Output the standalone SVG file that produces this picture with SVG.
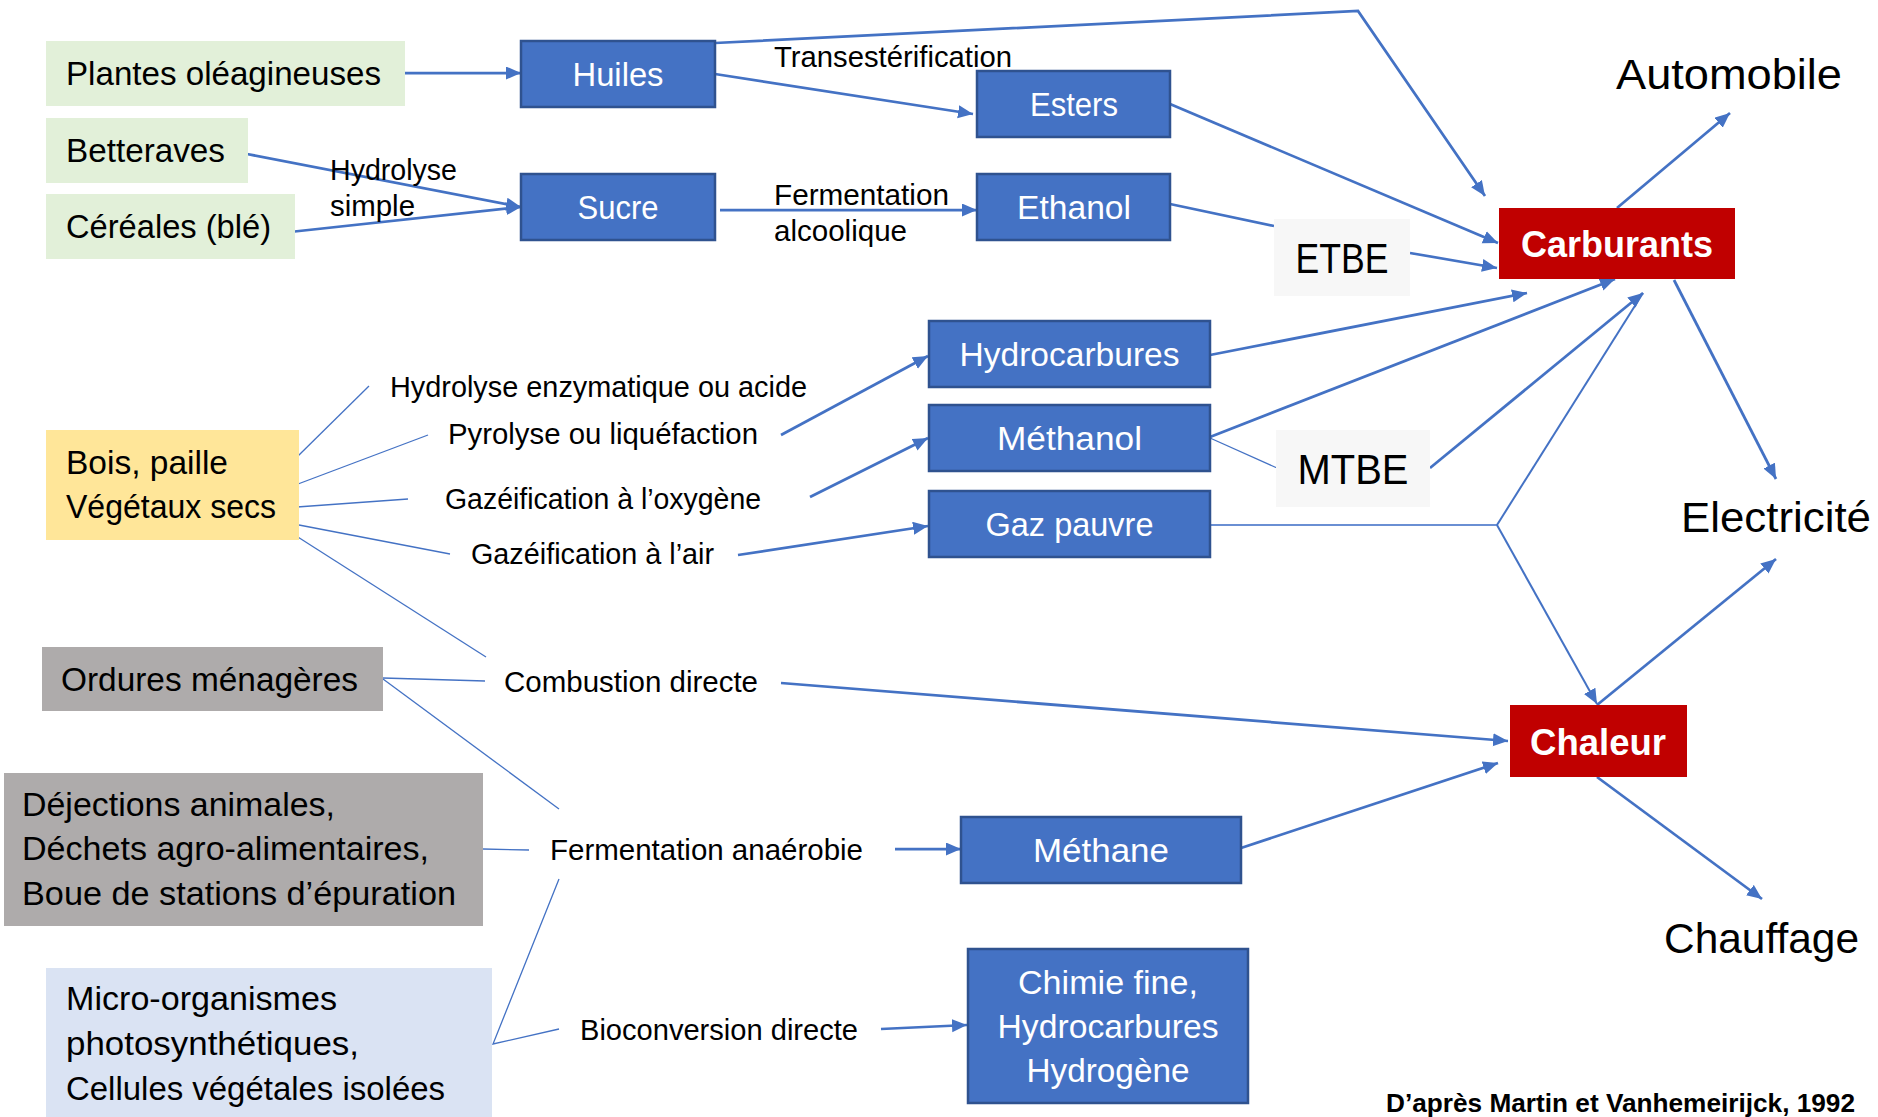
<svg xmlns="http://www.w3.org/2000/svg" width="1878" height="1117" viewBox="0 0 1878 1117">
<style>
text{font-family:"Liberation Sans",Arial,sans-serif;}
.big{font-size:33.5px;fill:#000;}
.wb{font-size:33.5px;fill:#fff;text-anchor:middle;}
.lbl{font-size:29px;fill:#000;}
.out{font-size:43px;fill:#000;}
.eth{font-size:42px;fill:#000;text-anchor:middle;}
.red{font-size:37px;font-weight:bold;fill:#fff;text-anchor:middle;}
.foot{font-size:26px;font-weight:bold;fill:#000;}
.bbox{fill:#4472C4;stroke:#2F528F;stroke-width:2.5;}
.rbox{fill:#C00000;}
.green{fill:#E2F0D9;}
.yellow{fill:#FFE699;}
.gray{fill:#AEABAB;}
.lblue{fill:#DAE3F3;}
.pale{fill:#F7F7F7;}
.c{fill:none;stroke:#4472C4;stroke-width:2.75;}
.ca{fill:none;stroke:#4472C4;stroke-width:2.75;marker-end:url(#ah);}
.th{fill:none;stroke:#4472C4;stroke-width:1.3;}
.md{fill:none;stroke:#4472C4;stroke-width:2;}
</style>
<defs>
<marker id="ah" markerUnits="userSpaceOnUse" markerWidth="16" markerHeight="14" refX="15" refY="6.5" orient="auto">
<path d="M0,0 L15,6.5 L0,13 Z" fill="#4472C4"/>
</marker>
</defs>
<rect width="1878" height="1117" fill="#fff"/>

<g id="connectors">
<line class="ca" x1="405" y1="73" x2="521" y2="73"/>
<line class="ca" x1="715" y1="74" x2="973" y2="114"/>
<polyline class="ca" points="715,43 1358,11 1485,196"/>
<line class="ca" x1="247" y1="154" x2="521" y2="207"/>
<line class="ca" x1="290" y1="232" x2="521" y2="207"/>
<line class="ca" x1="720" y1="210" x2="977" y2="210"/>
<line class="ca" x1="1170" y1="104" x2="1498" y2="243"/>
<line class="c" x1="1170" y1="204" x2="1274" y2="226"/>
<line class="ca" x1="1410" y1="253" x2="1497" y2="268"/>
<line class="ca" x1="1210" y1="355" x2="1527" y2="293"/>
<line class="ca" x1="1210" y1="437" x2="1615" y2="279"/>
<line class="th" x1="1210" y1="438" x2="1277" y2="468"/>
<line class="ca" x1="1430" y1="468" x2="1643" y2="293"/>
<line fill="none" stroke="#6A8FD3" stroke-width="1.8" x1="1210" y1="525" x2="1497" y2="525"/>
<line class="md" x1="1497" y1="525" x2="1643" y2="293"/>
<line class="md" x1="1497" y1="525" x2="1597" y2="704" marker-end="url(#ah)"/>
<line class="ca" x1="1597" y1="705" x2="1776" y2="559"/>
<line class="ca" x1="1597" y1="777" x2="1762" y2="899"/>
<line class="ca" x1="1617" y1="208" x2="1730" y2="113"/>
<line class="ca" x1="1674" y1="280" x2="1776" y2="479"/>
<line class="ca" x1="781" y1="683" x2="1508" y2="741"/>
<line class="ca" x1="1241" y1="848" x2="1498" y2="763"/>
<line class="ca" x1="781" y1="435" x2="928" y2="356"/>
<line class="ca" x1="810" y1="497" x2="928" y2="438"/>
<line class="ca" x1="738" y1="555" x2="928" y2="526"/>
<line class="ca" x1="895" y1="849" x2="961" y2="849"/>
<line class="ca" x1="881" y1="1029" x2="967" y2="1025"/>
<line class="th" x1="298" y1="456" x2="369" y2="386"/>
<line class="th" x1="298" y1="484" x2="428" y2="435"/>
<line class="th" x1="297" y1="507" x2="408" y2="499"/>
<line class="th" x1="299" y1="525" x2="450" y2="554"/>
<line class="th" x1="290" y1="532" x2="486" y2="657"/>
<line class="th" x1="383" y1="678" x2="485" y2="681"/>
<line class="th" x1="383" y1="679" x2="559" y2="809"/>
<line class="th" x1="483" y1="849" x2="529" y2="850"/>
<polyline class="th" points="559,879 493,1044 559,1029"/>
</g>

<g id="labels">
<text class="lbl" x="774" y="67" textLength="238" lengthAdjust="spacingAndGlyphs">Transestérification</text>
<text class="lbl" x="330" y="180" textLength="127" lengthAdjust="spacingAndGlyphs">Hydrolyse</text>
<text class="lbl" x="330" y="216" textLength="85" lengthAdjust="spacingAndGlyphs">simple</text>
<text class="lbl" x="774" y="205" textLength="175" lengthAdjust="spacingAndGlyphs">Fermentation</text>
<text class="lbl" x="774" y="241" textLength="133" lengthAdjust="spacingAndGlyphs">alcoolique</text>
<text class="lbl" x="390" y="397" textLength="417" lengthAdjust="spacingAndGlyphs">Hydrolyse enzymatique ou acide</text>
<text class="lbl" x="448" y="444" textLength="310" lengthAdjust="spacingAndGlyphs">Pyrolyse ou liquéfaction</text>
<text class="lbl" x="445" y="509" textLength="316" lengthAdjust="spacingAndGlyphs">Gazéification à l’oxygène</text>
<text class="lbl" x="471" y="564" textLength="243" lengthAdjust="spacingAndGlyphs">Gazéification à l’air</text>
<text class="lbl" x="504" y="692" textLength="254" lengthAdjust="spacingAndGlyphs">Combustion directe</text>
<text class="lbl" x="550" y="860" textLength="313" lengthAdjust="spacingAndGlyphs">Fermentation anaérobie</text>
<text class="lbl" x="580" y="1040" textLength="278" lengthAdjust="spacingAndGlyphs">Bioconversion directe</text>
<text class="foot" x="1386" y="1112" textLength="469" lengthAdjust="spacingAndGlyphs">D’après Martin et Vanhemeirijck, 1992</text>
</g>

<g id="plantes"><rect class="green" x="46" y="41" width="359" height="65"/><text class="big" x="66" y="85" textLength="315" lengthAdjust="spacingAndGlyphs">Plantes oléagineuses</text></g>
<g id="betteraves"><rect class="green" x="46" y="118" width="202" height="65"/><text class="big" x="66" y="162" textLength="159" lengthAdjust="spacingAndGlyphs">Betteraves</text></g>
<g id="cereales"><rect class="green" x="46" y="194" width="249" height="65"/><text class="big" x="66" y="238" textLength="205" lengthAdjust="spacingAndGlyphs">Céréales (blé)</text></g>

<g id="huiles"><rect class="bbox" x="521" y="41" width="194" height="66"/><text class="wb" x="618" y="86" textLength="91" lengthAdjust="spacingAndGlyphs">Huiles</text></g>
<g id="sucre"><rect class="bbox" x="521" y="174" width="194" height="66"/><text class="wb" x="618" y="219" textLength="81" lengthAdjust="spacingAndGlyphs">Sucre</text></g>
<g id="esters"><rect class="bbox" x="977" y="71" width="193" height="66"/><text class="wb" x="1074" y="116" textLength="88" lengthAdjust="spacingAndGlyphs">Esters</text></g>
<g id="ethanol"><rect class="bbox" x="977" y="174" width="193" height="66"/><text class="wb" x="1074" y="219" textLength="114" lengthAdjust="spacingAndGlyphs">Ethanol</text></g>

<g id="etbe"><rect class="pale" x="1274" y="219" width="136" height="77"/><text class="eth" x="1342" y="273" textLength="93" lengthAdjust="spacingAndGlyphs">ETBE</text></g>
<g id="mtbe"><rect class="pale" x="1276" y="430" width="154" height="77"/><text class="eth" x="1353" y="484" textLength="111" lengthAdjust="spacingAndGlyphs">MTBE</text></g>

<g id="carburants"><rect class="rbox" x="1499" y="208" width="236" height="71"/><text class="red" x="1617" y="257" textLength="192" lengthAdjust="spacingAndGlyphs">Carburants</text></g>
<g id="chaleur"><rect class="rbox" x="1510" y="705" width="177" height="72"/><text class="red" x="1598" y="755" textLength="136" lengthAdjust="spacingAndGlyphs">Chaleur</text></g>

<g id="automobile"><text class="out" x="1616" y="89" textLength="226" lengthAdjust="spacingAndGlyphs">Automobile</text></g>
<g id="electricite"><text class="out" x="1681" y="532" textLength="190" lengthAdjust="spacingAndGlyphs">Electricité</text></g>
<g id="chauffage"><text class="out" x="1664" y="953" textLength="195" lengthAdjust="spacingAndGlyphs">Chauffage</text></g>

<g id="hydrocarbures"><rect class="bbox" x="929" y="321" width="281" height="66"/><text class="wb" x="1069.5" y="366" textLength="220" lengthAdjust="spacingAndGlyphs">Hydrocarbures</text></g>
<g id="methanol"><rect class="bbox" x="929" y="405" width="281" height="66"/><text class="wb" x="1069.5" y="450" textLength="145" lengthAdjust="spacingAndGlyphs">Méthanol</text></g>
<g id="gazpauvre"><rect class="bbox" x="929" y="491" width="281" height="66"/><text class="wb" x="1069.5" y="536" textLength="168" lengthAdjust="spacingAndGlyphs">Gaz pauvre</text></g>

<g id="bois"><rect class="yellow" x="46" y="430" width="253" height="110"/><text class="big" x="66" y="474" textLength="162" lengthAdjust="spacingAndGlyphs">Bois, paille</text><text class="big" x="66" y="518" textLength="210" lengthAdjust="spacingAndGlyphs">Végétaux secs</text></g>
<g id="ordures"><rect class="gray" x="42" y="647" width="341" height="64"/><text class="big" x="61" y="691" textLength="297" lengthAdjust="spacingAndGlyphs">Ordures ménagères</text></g>
<g id="dejections"><rect class="gray" x="4" y="773" width="479" height="153"/><text class="big" x="22" y="816" textLength="313" lengthAdjust="spacingAndGlyphs">Déjections animales,</text><text class="big" x="22" y="860" textLength="407" lengthAdjust="spacingAndGlyphs">Déchets agro-alimentaires,</text><text class="big" x="22" y="905" textLength="434" lengthAdjust="spacingAndGlyphs">Boue de stations d’épuration</text></g>
<g id="micro"><rect class="lblue" x="46" y="968" width="446" height="149"/><text class="big" x="66" y="1010" textLength="271" lengthAdjust="spacingAndGlyphs">Micro-organismes</text><text class="big" x="66" y="1055" textLength="293" lengthAdjust="spacingAndGlyphs">photosynthétiques,</text><text class="big" x="66" y="1100" textLength="379" lengthAdjust="spacingAndGlyphs">Cellules végétales isolées</text></g>

<g id="methane"><rect class="bbox" x="961" y="817" width="280" height="66"/><text class="wb" x="1101" y="862" textLength="136" lengthAdjust="spacingAndGlyphs">Méthane</text></g>
<g id="chimie"><rect class="bbox" x="968" y="949" width="280" height="154"/><text class="wb" x="1108" y="994" textLength="180" lengthAdjust="spacingAndGlyphs">Chimie fine,</text><text class="wb" x="1108" y="1038" textLength="221" lengthAdjust="spacingAndGlyphs">Hydrocarbures</text><text class="wb" x="1108" y="1082" textLength="163" lengthAdjust="spacingAndGlyphs">Hydrogène</text></g>
</svg>
